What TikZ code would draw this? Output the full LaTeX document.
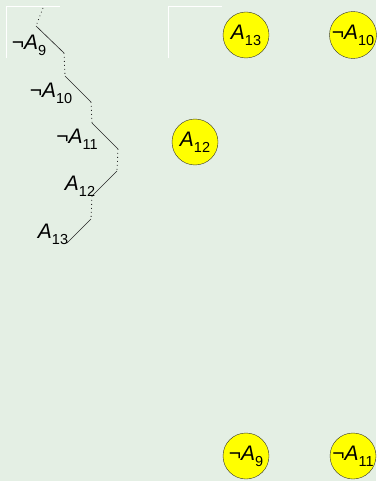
\documentclass[tikz,border=0pt]{standalone}
\usepackage{fontspec}
\setmainfont{Liberation Sans}
\definecolor{bgc}{HTML}{E4EFE4}
\definecolor{nodey}{HTML}{FFFF00}
\newcommand{\lit}[1]{\textit{A}\raisebox{-0.28em}{\fontsize{14.5}{14.5}\selectfont #1}}
\begin{document}
\begin{tikzpicture}[x=1pt,y=-1pt,
  lbl/.style={inner sep=0pt,font=\fontsize{21}{21}\selectfont},
  ball/.style={circle,draw=black!80,fill=nodey,minimum size=46pt,inner sep=0pt,font=\fontsize{21}{21}\selectfont},
  solidseg/.style={draw=black!85,line width=0.6pt},
  dotseg/.style={draw=black!85,line width=0.8pt,dash pattern=on 0.8pt off 3.2pt}]
\fill[bgc] (0,0) rectangle (376,481);
\useasboundingbox (0,0) rectangle (376,481);
% white frames
\draw[white,line width=0.8pt] (6,58) -- (6,6) -- (60,6);
\draw[white,line width=0.8pt] (168,58) -- (168,6) -- (222,6);
% path coordinates
\coordinate (p0) at (43,8);
\coordinate (p1) at (36,26);
\coordinate (p2) at (64,53);
\coordinate (p3) at (65,76);
\coordinate (p4) at (91,102);
\coordinate (p5) at (92,123);
\coordinate (p6) at (118,149);
\coordinate (p7) at (117,171);
\coordinate (p8) at (92,196);
\coordinate (p9) at (91,219);
\coordinate (p10) at (67,243);
\draw[dotseg] (p0) -- (p1);
\draw[solidseg] (p1) -- (p2);
\draw[dotseg] (p2) -- (p3);
\draw[solidseg] (p3) -- (p4);
\draw[dotseg] (p4) -- (p5);
\draw[solidseg] (p5) -- (p6);
\draw[dotseg] (p6) -- (p7);
\draw[solidseg] (p7) -- (p8);
\draw[dotseg] (p8) -- (p9);
\draw[solidseg] (p9) -- (p10);
% labels
\node[lbl] (l9) at (29,45) {¬\lit{9}};
\node[lbl] (l10) at (51,93) {¬\lit{10}};
\node[lbl] (l11) at (77,139) {¬\lit{11}};
\node[lbl] (l12) at (80,186) {\lit{12}};
\node[lbl] (l13) at (53,234) {\lit{13}};
% balls
\node[ball] (b13) at (246,35) {\lit{13}};
\node[ball] (b10) at (353,35) {¬\lit{10}};
\node[ball] (b12) at (195,142) {\lit{12}};
\node[ball] (b9) at (246,456) {¬\lit{9}};
\node[ball] (b11) at (353,456) {¬\lit{11}};
\end{tikzpicture}
\end{document}
